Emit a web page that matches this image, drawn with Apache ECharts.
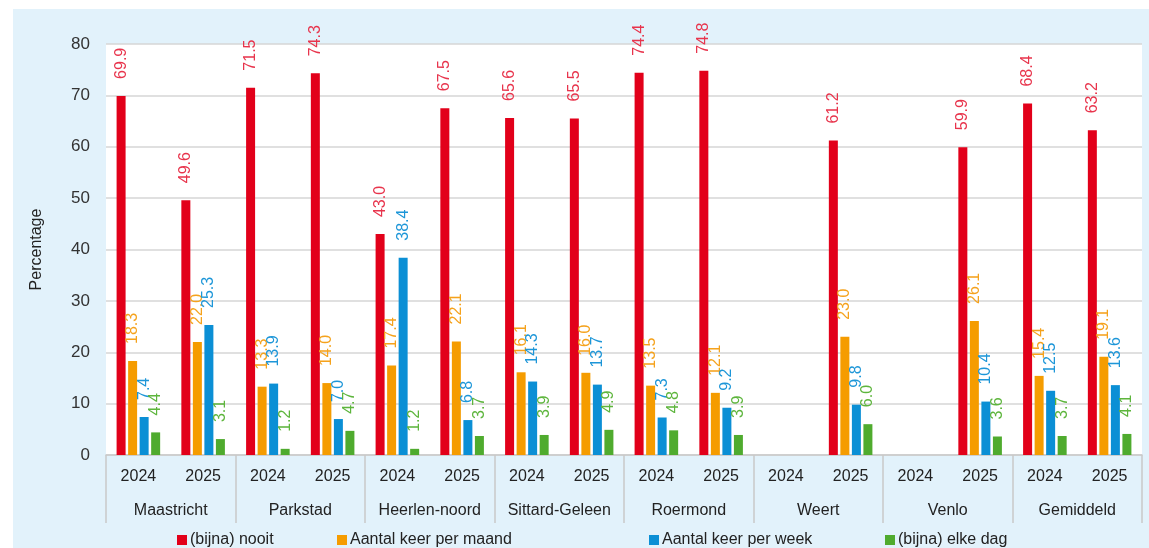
<!DOCTYPE html>
<html>
<head>
<meta charset="utf-8">
<script src="https://cdn.jsdelivr.net/npm/echarts@6/dist/echarts.min.js"></script>
<style>
  html, body { margin: 0; padding: 0; background: #fff; }
  #wrap { position: relative; width: 1149px; height: 548px; }
  #panel { position: absolute; left: 13px; top: 9px; right: 0; bottom: 0; background: #e2f2fb; }
  #chart { position: absolute; left: 0; top: 0; width: 1149px; height: 548px; }
</style>
</head>
<body>
<div id="wrap">
  <div id="panel"></div>
  <div id="chart"></div>
</div>
<script>
var years = ['2024', '2025', '2024', '2025', '2024', '2025', '2024', '2025',
             '2024', '2025', '2024', '2025', '2024', '2025', '2024', '2025'];
var regions = ['Maastricht', 'Parkstad', 'Heerlen-noord', 'Sittard-Geleen',
               'Roermond', 'Weert', 'Venlo', 'Gemiddeld'];

var nooit = [69.9, 49.6, 71.5, 74.3, 43.0, 67.5, 65.6, 65.5, 74.4, 74.8, null, 61.2, null, 59.9, 68.4, 63.2];
var perMaand = [18.3, 22.0, 13.3, 14.0, 17.4, 22.1, 16.1, 16.0, 13.5, 12.1, null, 23.0, null, 26.1, 15.4, 19.1];
var perWeek = [7.4, 25.3, 13.9, 7.0, 38.4, 6.8, 14.3, 13.7, 7.3, 9.2, null, 9.8, null, 10.4, 12.5, 13.6];
var elkeDag = [4.4, 3.1, 1.2, 4.7, 1.2, 3.7, 3.9, 4.9, 4.8, 3.9, null, 6.0, null, 3.6, 3.7, 4.1];

var seriesNames = ['(bijna) nooit', 'Aantal keer per maand', 'Aantal keer per week', '(bijna) elke dag'];
var colors = ['#e2001a', '#f59c00', '#0b8fd5', '#4fab2e'];
var labelColors = ['#e8344c', '#f5a21c', '#1d96d8', '#5db53c'];

var font = '"Liberation Sans", Arial, sans-serif';

var myChart = echarts.init(document.getElementById('chart'));

function makeSeries(i, values) {
    return {
        name: seriesNames[i],
        type: 'bar',
        xAxisIndex: 0,
        data: values,
        barWidth: 9,
        barGap: '28%',
        itemStyle: { color: colors[i] },
        label: {
            show: true,
            position: 'top',
            rotate: 90,
            align: 'left',
            verticalAlign: 'middle',
            distance: 17,
            color: labelColors[i],
            fontFamily: font,
            fontSize: 16,
            formatter: function (p) {
                return p.value == null ? '' : Number(p.value).toFixed(1);
            }
        }
    };
}

// one legend per item, placed like the original
var legendLefts = [172, 332, 644, 880];
var legends = [];
for (var i = 0; i < seriesNames.length; i++) {
    legends.push({
        data: [seriesNames[i]],
        left: legendLefts[i],
        top: 527,
        itemWidth: 10,
        itemHeight: 10,
        itemGap: 4,
        icon: 'rect',
        textStyle: { fontFamily: font, fontSize: 16, color: '#222', padding: [0, 0, 0, -2] }
    });
}

var option = {
    animation: false,
    textStyle: { fontFamily: font },
    legend: legends,
    grid: {
        left: 106,
        right: 7,
        top: 44,
        bottom: 93,
        show: true,
        backgroundColor: '#ffffff',
        borderWidth: 0
    },
    xAxis: [
        {
            type: 'category',
            data: years,
            position: 'bottom',
            axisLine: { show: true, lineStyle: { color: '#c9c9c9', width: 1.5 } },
            axisTick: { show: false },
            axisLabel: { color: '#222', fontSize: 16, margin: 14, interval: 0 }
        },
        {
            type: 'category',
            data: regions,
            position: 'bottom',
            axisLine: { show: false },
            axisTick: { show: true, length: 68, lineStyle: { color: '#c9c9c9', width: 1.5 } },
            axisLabel: { color: '#222', fontSize: 16, margin: 48, interval: 0 }
        }
    ],
    yAxis: {
        type: 'value',
        min: 0,
        max: 80,
        interval: 10,
        name: 'Percentage',
        nameLocation: 'middle',
        nameRotate: 90,
        nameGap: 61,
        nameTextStyle: { color: '#222', fontSize: 16 },
        axisLine: { show: false },
        axisTick: { show: false },
        axisLabel: { color: '#333', fontSize: 17, margin: 16 },
        splitLine: { lineStyle: { color: '#d6d6d6', width: 1.5 } }
    },
    series: [
        makeSeries(0, nooit),
        makeSeries(1, perMaand),
        makeSeries(2, perWeek),
        makeSeries(3, elkeDag)
    ]
};

myChart.setOption(option);
</script>
</body>
</html>
